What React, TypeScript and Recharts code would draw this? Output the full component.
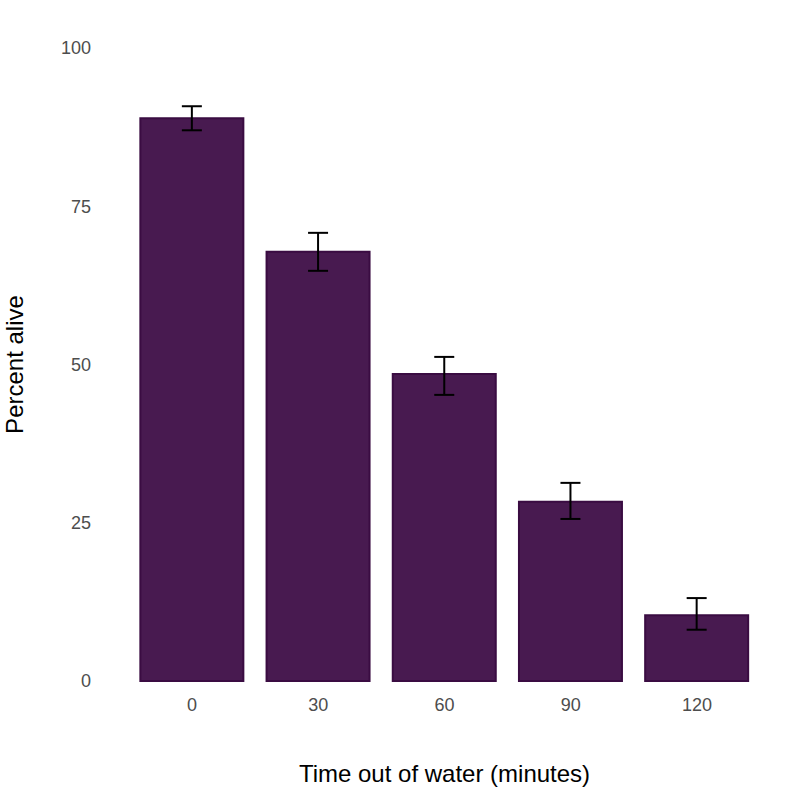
import { BarChart, Bar, XAxis, YAxis, ErrorBar } from "recharts";

const minutes = ["0", "30", "60", "90", "120"];
const percentAlive = [88.9, 67.8, 48.5, 28.3, 10.4];
const errLow = [1.9, 3.0, 3.3, 2.7, 2.3];
const errHigh = [1.9, 3.0, 2.7, 3.0, 2.7];
const yTicks = [0, 25, 50, 75, 100];

const data = minutes.map((m, i) => ({
  minutes: m,
  alive: percentAlive[i],
  err: [errLow[i], errHigh[i]],
}));

const font = "'Liberation Sans', Arial, sans-serif";

export default function App() {
  return (
    <div style={{ position: "absolute", left: 0, top: 0, fontFamily: font }}>
      <BarChart
        width={800}
        height={800}
        data={data}
        margin={{ top: 48, right: 40, left: 0, bottom: 0 }}
        barCategoryGap="9%"
      >
        <XAxis
          dataKey="minutes"
          axisLine={false}
          tickLine={false}
          tickSize={0}
          tickMargin={17}
          height={119}
          tick={{ fill: "#4d4d4d", fontSize: 18, fontFamily: font }}
          label={{ value: "Time out of water (minutes)", position: "insideBottom", offset: 18, fill: "#000", fontSize: 24, fontFamily: font }}
        />
        <YAxis
          domain={[0, 100]}
          ticks={yTicks}
          axisLine={false}
          tickLine={false}
          tickSize={0}
          tickMargin={38}
          width={129}
          tick={{ fill: "#4d4d4d", fontSize: 18, fontFamily: font }}
          label={{ value: "Percent alive", angle: -90, position: "insideLeft", offset: 14, fill: "#000", fontSize: 24, fontFamily: font, style: { textAnchor: "middle" } }}
        />
        <Bar dataKey="alive" fill="#481a50" stroke="#3a0c42" strokeWidth={2} isAnimationActive={false}>
          <ErrorBar dataKey="err" width={10} stroke="#000" strokeWidth={2} isAnimationActive={false} />
        </Bar>
      </BarChart>
    </div>
  );
}
